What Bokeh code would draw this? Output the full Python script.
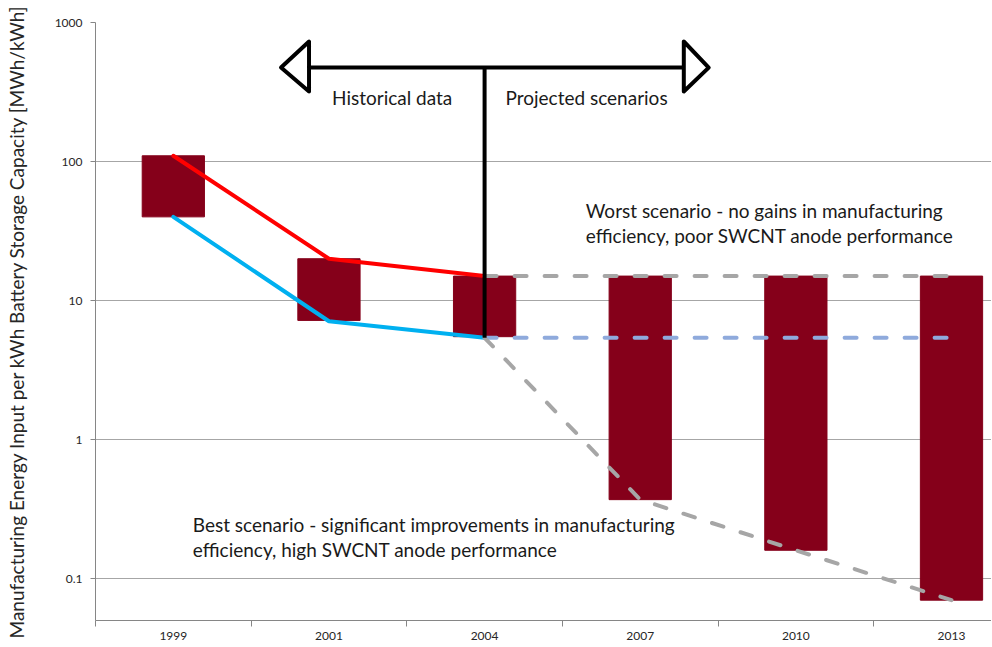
from bokeh.plotting import figure
from bokeh.models import FixedTicker, CustomJSTickFormatter, Label
from bokeh.embed import file_html
from bokeh.resources import INLINE

# ---- data ----
years = ["1999", "2001", "2004", "2007", "2010", "2013"]
bar_high = [110, 20, 15, 15, 15, 15]
bar_low = [40, 7.2, 5.5, 0.37, 0.16, 0.07]

hist_years = ["1999", "2001", "2004"]
hist_upper = [110, 20, 15]      # red line
hist_lower = [40, 7.1, 5.4]     # blue line

proj_years = ["2004", "2007", "2010", "2013"]
proj_worst = [15, 15, 15, 15]
proj_mid = [5.4, 5.4, 5.4, 5.4]
proj_best = [5.4, 0.37, 0.16, 0.07]

y_ticks = [0.1, 1, 10, 100, 1000]

idx = {y: i for i, y in enumerate(years)}
xs = list(range(len(years)))

FONT = "Lato"
TXT = "#1a1a1a"

p = figure(width=991, height=646, output_backend="svg", toolbar_location=None,
           y_axis_type="log", x_range=(-0.5, 5.257), y_range=(0.05, 1000),
           min_border_left=95, min_border_right=0, min_border_top=22, min_border_bottom=26)
p.outline_line_color = None
p.background_fill_color = "white"
p.border_fill_color = "white"

# axes
p.xaxis.ticker = FixedTicker(ticks=xs, minor_ticks=[i - 0.5 for i in range(len(years) + 1)])
p.xaxis.formatter = CustomJSTickFormatter(args=dict(labels=years), code="return labels[Math.round(tick)];")
p.xaxis.major_tick_line_color = None
p.xaxis.major_tick_out = 6
p.xaxis.major_tick_in = 0
p.xaxis.minor_tick_out = 6
p.xaxis.minor_tick_in = 0
p.xaxis.minor_tick_line_color = "#868686"
p.xaxis.axis_line_color = "#868686"
p.xaxis.major_label_standoff = 5
p.xaxis.major_label_text_font = FONT
p.xaxis.major_label_text_font_size = "12px"
p.xaxis.major_label_text_color = "#262626"

p.yaxis.ticker = FixedTicker(ticks=y_ticks, minor_ticks=[])
p.yaxis.formatter = CustomJSTickFormatter(code="return String(Math.round(tick*10)/10);")
p.yaxis.axis_line_color = "#868686"
p.yaxis.major_tick_line_color = "#868686"
p.yaxis.major_tick_out = 5
p.yaxis.major_tick_in = 0
p.yaxis.minor_tick_line_color = None
p.yaxis.major_label_standoff = 8
p.yaxis.major_label_text_font = FONT
p.yaxis.major_label_text_font_size = "12px"
p.yaxis.major_label_text_color = "#262626"
p.yaxis.axis_label = "Manufacturing Energy Input per kWh Battery Storage Capacity [MWh/kWh]"
p.yaxis.axis_label_text_font = FONT
p.yaxis.axis_label_text_font_style = "normal"
p.yaxis.axis_label_text_font_size = "19px"
p.yaxis.axis_label_text_color = "#262626"
p.yaxis.axis_label_standoff = 24

p.xgrid.grid_line_color = None
p.ygrid.grid_line_color = "#a6a6a6"
p.ygrid.grid_line_width = 1

# bars
p.vbar(x=xs, bottom=bar_low, top=bar_high, width=0.4, fill_color="#85001a", line_color="#85001a")

# historical lines
p.line([idx[y] for y in hist_years], hist_upper, line_color="#ff0000", line_width=4, line_cap="round")
p.line([idx[y] for y in hist_years], hist_lower, line_color="#00b0f0", line_width=4, line_cap="round")

# projected dashed lines
px = [idx[y] for y in proj_years]
p.line(px, proj_worst, line_color="#a6a6a6", line_width=4, line_dash="12 18", line_cap="round")
p.line(px, proj_mid, line_color="#8faadc", line_width=4, line_dash="12 18", line_cap="round")
p.line(px, proj_best, line_color="#a6a6a6", line_width=4, line_dash="12 18", line_cap="round")

# divider annotation (historical / projected)
cx = idx["2004"]
ay, atop, abot = 474, 730, 319
p.line([cx - 1.128, cx + 1.28], [ay, ay], line_color="black", line_width=4)
p.line([cx, cx], [ay, proj_best[0]], line_color="black", line_width=4)
p.patch([cx - 1.308, cx - 1.128, cx - 1.128], [ay, atop, abot],
        fill_color="white", line_color="black", line_width=4, line_join="round")
p.patch([cx + 1.44, cx + 1.28, cx + 1.28], [ay, atop, abot],
        fill_color="white", line_color="black", line_width=4, line_join="round")

def lab(x, y, t):
    p.add_layout(Label(x=x, y=y, text=t, text_font=FONT, text_font_size="19px",
                       text_color=TXT, text_baseline="middle", text_align="left"))

lab(1.02, 289, "Historical data")
lab(2.134, 289, "Projected scenarios")
lab(2.65, 44.4, "Worst scenario - no gains in manufacturing")
lab(2.65, 29.4, "efficiency, poor SWCNT anode performance")
lab(0.125, 0.245, "Best scenario - significant improvements in manufacturing")
lab(0.125, 0.162, "efficiency, high SWCNT anode performance")

open("out.html", "w").write(file_html(p, INLINE))
